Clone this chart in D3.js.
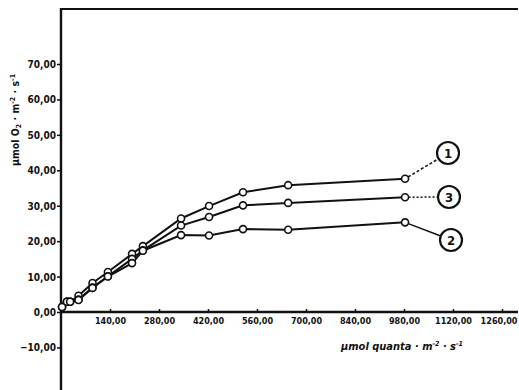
<!DOCTYPE html>
<html>
<head>
<meta charset="utf-8">
<script src="https://cdn.jsdelivr.net/npm/d3@7"></script>
<style>
  html, body { margin: 0; padding: 0; background: #fff; }
  svg { display: block; }
  text { font-family: "DejaVu Sans Condensed", "Liberation Sans", sans-serif; font-weight: bold; fill: #111; }
</style>
</head>
<body>
<svg id="chart" width="519" height="390"></svg>
<script>
// Photon flux density (µmol quanta·m⁻²·s⁻¹) at each measurement
const irradiance = [3, 17, 26, 50, 90, 134, 203, 234, 343, 423, 520, 649, 983];

// Net O2 evolution (µmol O2·m⁻²·s⁻¹) for the three curves
const curve1 = [1.4, 2.9, 2.9, 4.6, 8.2, 11.3, 16.4, 18.6, 26.4, 29.9, 33.8, 35.8, 37.6];
const curve3 = [1.4, 2.9, 2.9, 3.5, 6.9, 10.1, 15.0, 17.4, 24.4, 26.8, 30.1, 30.8, 32.4];
const curve2 = [1.4, 2.9, 2.9, 3.4, 6.8, 10.0, 13.8, 17.3, 21.7, 21.6, 23.4, 23.2, 25.3];

const seriesNames = ["1", "3", "2"];

const xTicks = [140, 280, 420, 560, 700, 840, 980, 1120, 1260];
const yTicks = [-10, 0, 10, 20, 30, 40, 50, 60, 70];

const svg = d3.select("#chart");

const x = d3.scaleLinear().domain([0, 1260]).range([61, 502]);
const y = d3.scaleLinear().domain([0, 70]).range([312, 64]);

const fmt = v => d3.format(".2f")(v).replace(".", ",");

// Frame: top rule and vertical axis running the full height
svg.append("line")
  .attr("x1", 60).attr("x2", 518).attr("y1", 9).attr("y2", 9)
  .attr("stroke", "#111").attr("stroke-width", 2.2);

// Y axis
const yAxis = svg.append("g")
  .attr("transform", "translate(61,0)")
  .call(d3.axisLeft(y).tickValues(yTicks).tickFormat(fmt).tickSize(4).tickPadding(1));
yAxis.select(".domain").remove();
yAxis.selectAll(".tick line").attr("stroke", "#111").attr("stroke-width", 1.5);
yAxis.selectAll(".tick text").attr("font-size", 10).attr("dy", "0.35em");

svg.append("line")
  .attr("x1", 61).attr("x2", 61).attr("y1", 8).attr("y2", 390)
  .attr("stroke", "#111").attr("stroke-width", 2.4);

// X axis at y = 0; the last label is right-aligned so it stays inside
const xAxis = svg.append("g")
  .attr("transform", `translate(0,${y(0)})`)
  .call(d3.axisBottom(x).tickValues(xTicks).tickFormat(fmt).tickSize(-3).tickPadding(6));
xAxis.select(".domain").remove();
xAxis.selectAll(".tick line").attr("stroke", "#111").attr("stroke-width", 1.5);
xAxis.selectAll(".tick text")
  .attr("font-size", 9)
  .attr("text-anchor", d => d === 1260 ? "end" : "middle")
  .attr("dx", d => d === 1260 ? 15 : 0);

svg.append("line")
  .attr("x1", 61).attr("x2", 518).attr("y1", y(0)).attr("y2", y(0))
  .attr("stroke", "#111").attr("stroke-width", 2.4);

// Axis titles
svg.append("text")
  .attr("transform", "translate(19,120) rotate(-90)")
  .attr("text-anchor", "middle")
  .attr("font-size", 10.5)
  .html('µmol O<tspan font-size="7" dy="2">2</tspan><tspan dy="-2"> · m</tspan><tspan font-size="7" dy="-4">-2</tspan><tspan dy="4"> · s</tspan><tspan font-size="7" dy="-4">-1</tspan>');

svg.append("text")
  .attr("x", 402).attr("y", 350)
  .attr("text-anchor", "middle")
  .attr("font-size", 11)
  .attr("font-style", "italic")
  .html('µmol quanta · m<tspan font-size="7" dy="-4">-2</tspan><tspan dy="4"> · s</tspan><tspan font-size="7" dy="-4">-1</tspan>');

// Curves
const series = [curve1, curve3, curve2];
const line = d3.line().x((d, i) => x(irradiance[i])).y(d => y(d));

series.forEach(vals => {
  svg.append("path")
    .datum(vals)
    .attr("d", line)
    .attr("fill", "none")
    .attr("stroke", "#111")
    .attr("stroke-width", 2);
});

series.forEach(vals => {
  svg.append("g").selectAll("circle")
    .data(vals)
    .join("circle")
    .attr("cx", (d, i) => x(irradiance[i]))
    .attr("cy", d => y(d))
    .attr("r", 3.5)
    .attr("fill", "#fff")
    .attr("stroke", "#111")
    .attr("stroke-width", 1.6);
});

// Numbered callouts attached to the last point of each curve
const callouts = [
  { vals: curve1, cx: 448, cy: 153, dash: "3,2" },
  { vals: curve3, cx: 449, cy: 197, dash: "2,2" },
  { vals: curve2, cx: 451, cy: 240, dash: null }
];
const r = 11;
callouts.forEach((c, k) => {
  const last = c.vals.length - 1;
  const px = x(irradiance[last]), py = y(c.vals[last]);
  const ang = Math.atan2(py - c.cy, px - c.cx);
  const ex = c.cx + r * Math.cos(ang), ey = c.cy + r * Math.sin(ang);
  const dx = px - ex, dy = py - ey, len = Math.hypot(dx, dy);
  svg.insert("line", "g")
    .attr("x1", px - dx / len * 3.5).attr("y1", py - dy / len * 3.5)
    .attr("x2", ex).attr("y2", ey)
    .attr("stroke", "#111").attr("stroke-width", 1.5)
    .attr("stroke-dasharray", c.dash);
  svg.append("circle")
    .attr("cx", c.cx).attr("cy", c.cy).attr("r", r)
    .attr("fill", "#fff").attr("stroke", "#111").attr("stroke-width", 2.2);
  svg.append("text")
    .attr("x", c.cx).attr("y", c.cy).attr("dy", "0.36em")
    .attr("text-anchor", "middle")
    .attr("font-size", 13)
    .text(seriesNames[k]);
});
</script>
</body>
</html>
